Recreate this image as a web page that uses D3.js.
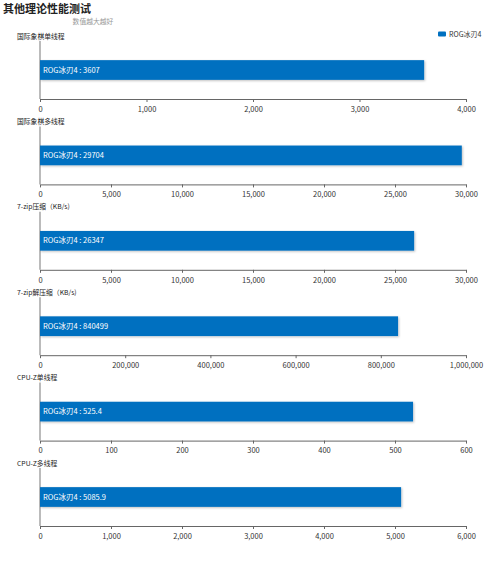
<!DOCTYPE html>
<html>
<head>
<meta charset="utf-8">
<script src="https://cdn.jsdelivr.net/npm/d3@7"></script>
<style>
  body { margin: 0; background: #fff; }
  text { font-family: "Noto Sans CJK SC", "Noto Sans", sans-serif; }
</style>
</head>
<body>
<div id="chart"></div>
<script>
// test names, one panel per test
var titles = ["国际象棋单线程", "国际象棋多线程", "7-zip压缩（KB/s)", "7-zip解压缩（KB/s)", "CPU-Z单线程", "CPU-Z多线程"];
var seriesName = "ROG冰刃4";
var values = [3607, 29704, 26347, 840499, 525.4, 5085.9];
var labels = ["3607", "29704", "26347", "840499", "525.4", "5085.9"];
var axisMax = [4000, 30000, 30000, 1000000, 600, 6000];
var tickStep = [1000, 5000, 5000, 200000, 100, 1000];

var width = 500, height = 561;
var left = 40, right = 466;
var firstBottom = 99, panelGap = 85.4, plotH = 58;
var barColor = "#0070c0";

var svg = d3.select("#chart").append("svg")
    .attr("width", width)
    .attr("height", height);

//soft shadow under the bars
var defs = svg.append("defs");
var f = defs.append("filter").attr("id", "shadow")
    .attr("x", "-5%").attr("y", "-30%").attr("width", "110%").attr("height", "160%");
f.append("feDropShadow")
    .attr("dx", 1).attr("dy", 1).attr("stdDeviation", 1.2)
    .attr("flood-color", "#000").attr("flood-opacity", 0.25);

svg.append("text")
    .attr("x", 3).attr("y", 13)
    .attr("font-size", 11).attr("font-weight", "bold").attr("fill", "#222")
    .text("其他理论性能测试");

svg.append("text")
    .attr("x", 93).attr("y", 23.5)
    .attr("text-anchor", "middle")
    .attr("font-size", 6.8).attr("fill", "#999")
    .text("数值越大越好");

//legend
var legend = svg.append("g").attr("transform", "translate(438,31.5)");
legend.append("rect").attr("width", 8).attr("height", 5).attr("rx", 1).attr("fill", barColor);
legend.append("text").attr("x", 11).attr("y", 5.5)
    .attr("font-size", 7).attr("fill", "#333").text(seriesName);

titles.forEach(function(t, i) {
    var bottom = firstBottom + i * panelGap;
    var top = bottom - plotH;
    var g = svg.append("g");

    var x = d3.scaleLinear().domain([0, axisMax[i]]).range([left, right]);
    var y = d3.scaleBand().domain([seriesName]).range([top, bottom]).paddingInner(0.66).paddingOuter(0.33);

    g.append("text")
        .attr("x", 17).attr("y", top - 2.5)
        .attr("font-size", 6.8).attr("fill", "#222")
        .text(t);

    //x axis
    var ticks = d3.range(0, axisMax[i] + tickStep[i] / 2, tickStep[i]);
    var ax = g.append("g")
        .attr("transform", "translate(0," + bottom + ")")
        .call(d3.axisBottom(x).tickValues(ticks).tickSize(3).tickSizeOuter(0).tickFormat(d3.format(",")));
    ax.select(".domain").attr("stroke", "#666");
    ax.selectAll(".tick line").attr("stroke", "#666");
    ax.selectAll(".tick text")
        .attr("font-size", 7.5).attr("fill", "#333").attr("dy", "0.9em")
        .style("font-family", "'Noto Sans CJK SC', sans-serif");

    //y axis line
    g.append("line")
        .attr("x1", left).attr("x2", left)
        .attr("y1", top).attr("y2", bottom)
        .attr("stroke", "#aaa").attr("stroke-width", 1.6);

    g.append("rect")
        .attr("x", x(0))
        .attr("y", y(seriesName))
        .attr("width", x(values[i]) - x(0))
        .attr("height", y.bandwidth())
        .attr("fill", barColor)
        .attr("filter", "url(#shadow)");

    g.append("text")
        .attr("x", x(0) + 3)
        .attr("y", y(seriesName) + y.bandwidth() / 2)
        .attr("dy", "0.35em")
        .attr("font-size", 7.5).attr("fill", "#fff")
        .text(seriesName + " : " + labels[i]);
});
</script>
</body>
</html>
